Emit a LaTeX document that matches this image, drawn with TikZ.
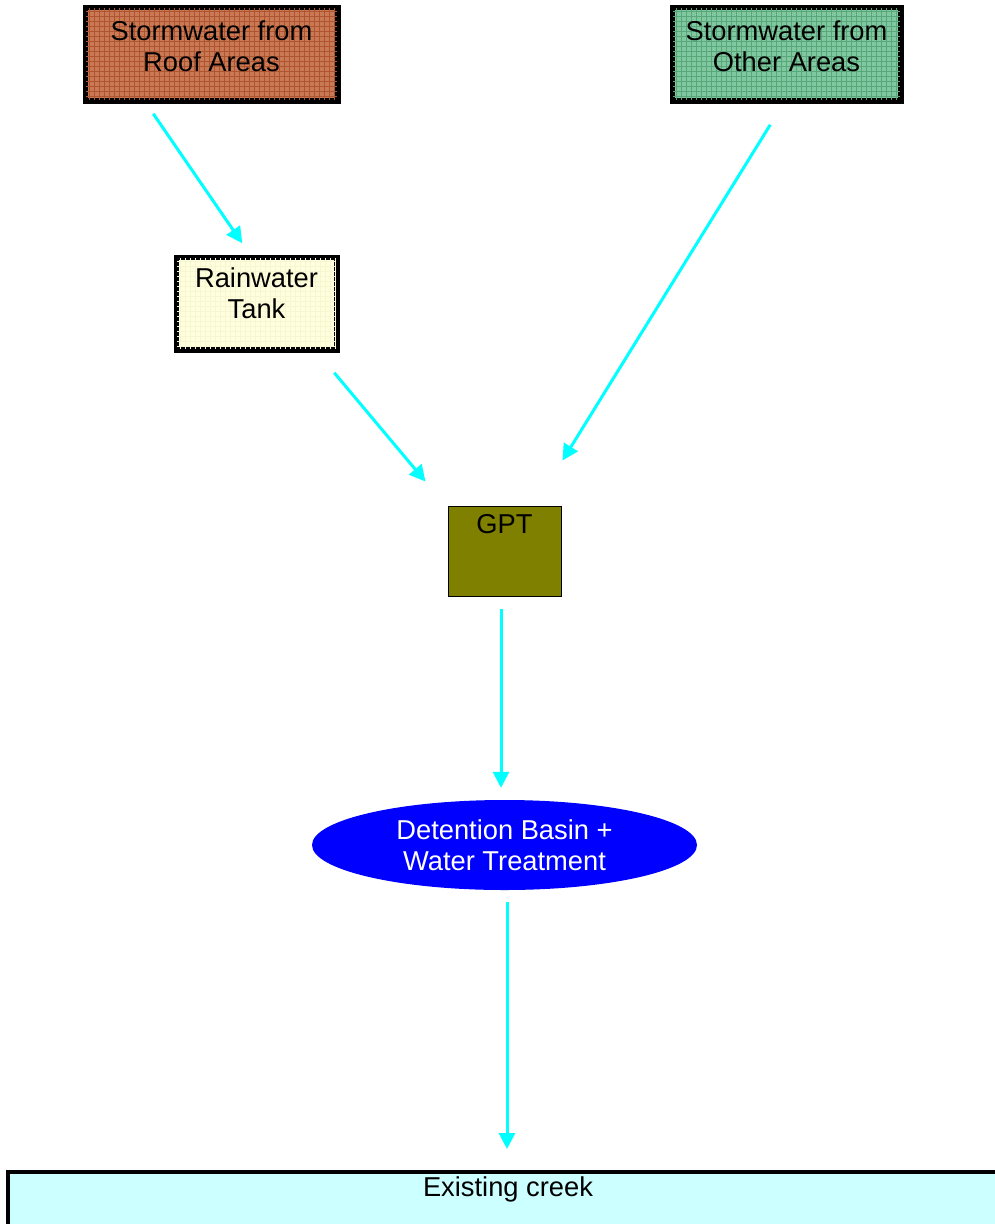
\documentclass[tikz,border=0pt]{standalone}
\usepackage{fontspec}
\setmainfont{Liberation Sans}
\usetikzlibrary{arrows.meta,shapes.geometric,calc}

\definecolor{roofbase}{HTML}{C97A55}
\definecolor{roofline}{HTML}{AE5430}
\definecolor{otherbase}{HTML}{80C9A0}
\definecolor{otherline}{HTML}{58A67A}
\definecolor{tankbase}{HTML}{FFFFDE}
\definecolor{tankline}{HTML}{F6F6D2}
\definecolor{gptfill}{HTML}{808000}
\definecolor{creekfill}{HTML}{CCFFFF}
\definecolor{flow}{HTML}{00FFFF}

\tikzset{
  label text/.style={font=\fontsize{27.3}{31}\selectfont, align=center, inner sep=0pt},
  heavybox/.style={draw=black, line width=3.5pt, rectangle, inner sep=0pt},
  flowarrow/.style={draw=flow, line width=3pt,
    -{Triangle[width=16pt,length=16pt]}},
}

\begin{document}
\begin{tikzpicture}[x=1pt, y=-1pt]
  \useasboundingbox[fill=white] (0,0) rectangle (994,1224);

  % source and storage boxes
  \node[heavybox, fill=roofbase, minimum width=251pt, minimum height=92pt] (roof) at (211.5,54) {};
  \node[heavybox, fill=otherbase, minimum width=227pt, minimum height=92pt] (other) at (786.5,54) {};
  \node[heavybox, fill=tankbase, minimum width=159pt, minimum height=91pt] (tank) at (256.5,303.5) {};

  % woven texture in each box
  \begin{scope}
    \clip (roof.south west) rectangle (roof.north east);
    \foreach \k in {0,5,...,260} {
      \draw[roofline, line width=0.8pt] ($(roof.north west)+(\k,0)$) -- ++(0,100);
      \draw[roofline, line width=0.8pt] ($(roof.north west)+(0,\k)$) -- ++(260,0);
    }
  \end{scope}
  \draw[black, line width=3.5pt] (roof.south west) rectangle (roof.north east);

  \begin{scope}
    \clip (other.south west) rectangle (other.north east);
    \foreach \k in {0,5,...,240} {
      \draw[otherline, line width=0.8pt] ($(other.north west)+(\k,0)$) -- ++(0,100);
      \draw[otherline, line width=0.8pt] ($(other.north west)+(0,\k)$) -- ++(240,0);
    }
  \end{scope}
  \draw[black, line width=3.5pt] (other.south west) rectangle (other.north east);

  \begin{scope}
    \clip (tank.south west) rectangle (tank.north east);
    \foreach \k in {0,5,...,170} {
      \draw[tankline, line width=0.7pt] ($(tank.north west)+(\k,0)$) -- ++(0,100);
      \draw[tankline, line width=0.7pt] ($(tank.north west)+(0,\k)$) -- ++(170,0);
    }
  \end{scope}
  \draw[black, line width=3.5pt] (tank.south west) rectangle (tank.north east);

  \node[label text] (roofT) at ($(roof.center)+(0,-8)$) {Stormwater from\\Roof Areas};
  \node[label text] (otherT) at ($(other.center)+(0,-8)$) {Stormwater from\\Other Areas};
  \node[label text] (tankT) at ($(tank.center)+(0,-10)$) {Rainwater\\Tank};

  % gross pollutant trap
  \node[draw=black, line width=1pt, fill=gptfill, minimum width=113pt, minimum height=90pt, inner sep=0pt] (gpt) at (504.5,551) {};
  \node[label text] (gptT) at ($(gpt.north)+(0,19)$) {GPT};

  % detention basin
  \node[ellipse, fill=blue, minimum width=385pt, minimum height=90pt, inner sep=0pt] (basin) at (504.5,845) {};
  \node[label text, text=white] (basinT) at (basin.center) {Detention Basin +\\Water Treatment};

  % receiving waters
  \node[draw=black, line width=3.5pt, fill=creekfill, minimum width=1000pt, minimum height=80pt, inner sep=0pt, anchor=north west] (creek) at (6,1170) {};
  \node[label text] (creekT) at (508,1189) {Existing creek};

  % arrow end points
  \coordinate (a1s) at ($(roof.south west)+(69,12)$);
  \coordinate (a1e) at ($(tank.north west)+(67,-13)$);
  \coordinate (a2s) at ($(other.south west)+(99,23)$);
  \coordinate (a2e) at ($(gpt.north west)+(115,-45)$);
  \coordinate (a3s) at ($(tank.south west)+(159,22)$);
  \coordinate (a3e) at ($(gpt.north west)+(-22,-24)$);
  \coordinate (a4s) at ($(gpt.south)+(-3.5,12)$);
  \coordinate (a4e) at ($(basin.north)+(-3.5,-12)$);
  \coordinate (a5s) at ($(basin.south)+(2.5,12)$);
  \coordinate (a5e) at ($(creek.north west)+(501,-21)$);

  \draw[flowarrow] (a1s) -- (a1e);
  \draw[flowarrow] (a2s) -- (a2e);
  \draw[flowarrow] (a3s) -- (a3e);
  \draw[flowarrow] (a4s) -- (a4e);
  \draw[flowarrow] (a5s) -- (a5e);
\end{tikzpicture}
\end{document}
